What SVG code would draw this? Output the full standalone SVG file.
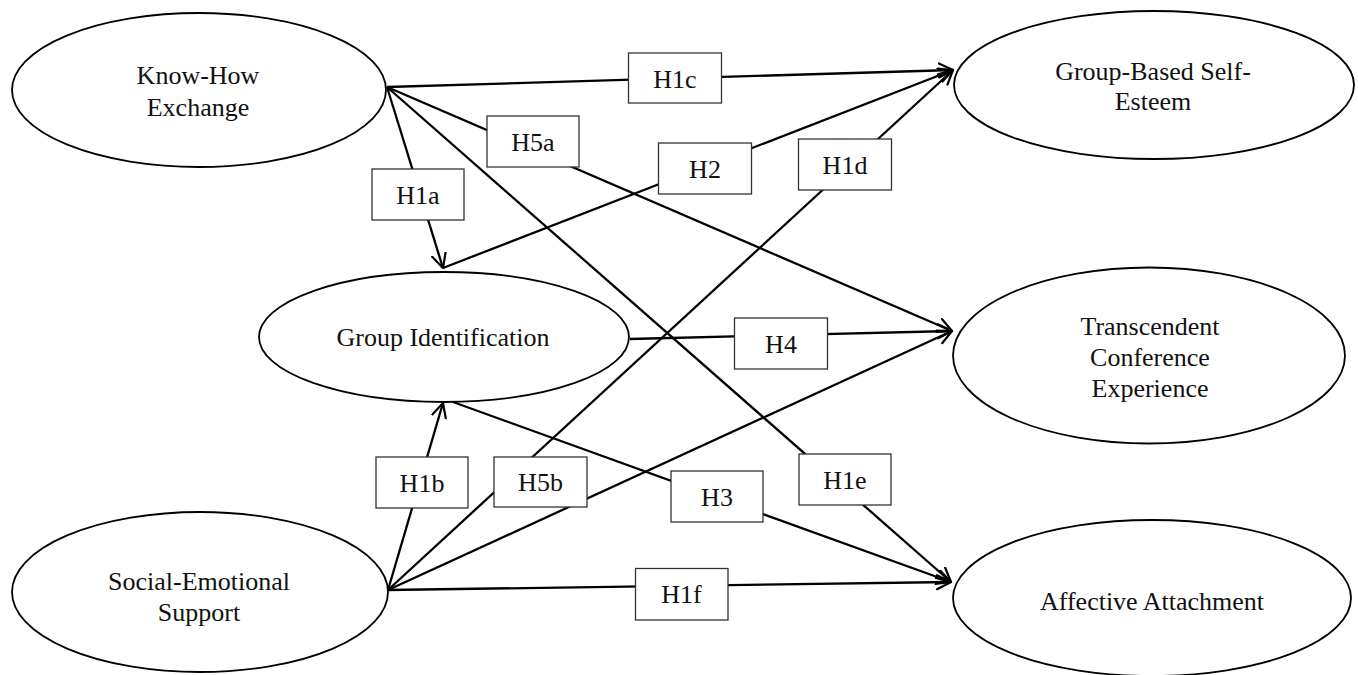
<svg xmlns="http://www.w3.org/2000/svg" width="1358" height="675" viewBox="0 0 1358 675">
  <style>
    .node { fill: #ffffff; stroke: #000000; stroke-width: 1.8; }
    .txt { font-family: "Liberation Serif", "Times New Roman", serif; font-size: 26px; fill: #111111; text-anchor: middle; }
    .edge { fill: none; stroke: #000000; stroke-width: 2.3; marker-end: url(#open-arrow); }
    .plain { fill: none; stroke: #000000; stroke-width: 2.3; }
    .tag rect { fill: #ffffff; stroke: #333333; stroke-width: 1.3; }
  </style>
  <defs>
    <marker id="open-arrow" markerUnits="userSpaceOnUse" markerWidth="20" markerHeight="20" refX="15" refY="8" orient="auto">
      <path d="M1,1 L15,8 L1,15" fill="none" stroke="#000000" stroke-width="2.2" stroke-linecap="round" stroke-linejoin="round"/>
    </marker>
  </defs>

  <rect x="0" y="0" width="1358" height="675" fill="#ffffff"/>

  <!-- constructs -->
  <g id="know-how-exchange">
    <ellipse class="node" cx="199" cy="90" rx="187" ry="77"/>
    <text class="txt" x="198" y="84">Know-How</text>
    <text class="txt" x="198" y="116">Exchange</text>
  </g>
  <g id="group-identification">
    <ellipse class="node" cx="444" cy="337" rx="185" ry="65"/>
    <text class="txt" x="443" y="346">Group Identification</text>
  </g>
  <g id="social-emotional-support">
    <ellipse class="node" cx="200" cy="592" rx="188" ry="80"/>
    <text class="txt" x="199" y="590">Social-Emotional</text>
    <text class="txt" x="199" y="621">Support</text>
  </g>
  <g id="group-based-self-esteem">
    <ellipse class="node" cx="1154" cy="85" rx="200" ry="74"/>
    <text class="txt" x="1153" y="79.5">Group-Based Self-</text>
    <text class="txt" x="1153" y="110">Esteem</text>
  </g>
  <g id="transcendent-conference-experience">
    <ellipse class="node" cx="1149" cy="355.5" rx="196" ry="88"/>
    <text class="txt" x="1150" y="335">Transcendent</text>
    <text class="txt" x="1150" y="366">Conference</text>
    <text class="txt" x="1150" y="397">Experience</text>
  </g>
  <g id="affective-attachment">
    <ellipse class="node" cx="1152" cy="598" rx="199" ry="78"/>
    <text class="txt" x="1152" y="610">Affective Attachment</text>
  </g>

  <!-- paths between constructs -->
  <g id="connectors">
    <line class="edge" x1="387" y1="87" x2="953" y2="70"/>
    <line class="edge" x1="387" y1="87" x2="952" y2="331"/>
    <line class="edge" x1="387" y1="87" x2="951" y2="582"/>
    <line class="edge" x1="387" y1="87" x2="443" y2="268"/>
    <line class="edge" x1="443" y1="268" x2="953" y2="70"/>
    <line class="edge" x1="630" y1="339" x2="952" y2="331"/>
    <line class="edge" x1="453" y1="402" x2="951" y2="582"/>
    <line class="edge" x1="388" y1="590" x2="443" y2="403"/>
    <line class="edge" x1="388" y1="590" x2="953" y2="70"/>
    <line class="edge" x1="388" y1="590" x2="952" y2="331"/>
    <line class="edge" x1="388" y1="590" x2="951" y2="582"/>
  </g>

  <!-- hypothesis labels -->
  <g id="labels">
    <g id="tag-h1c" class="tag"><rect x="628.5" y="53" width="93" height="50"/><text class="txt" x="675" y="87.5">H1c</text></g>
    <g id="tag-h5a" class="tag"><rect x="487" y="116" width="92" height="51"/><text class="txt" x="533" y="150.5">H5a</text></g>
    <g id="tag-h2" class="tag"><rect x="658.5" y="143" width="93" height="51"/><text class="txt" x="705" y="177.5">H2</text></g>
    <g id="tag-h1d" class="tag"><rect x="798.5" y="139" width="93" height="51"/><text class="txt" x="845" y="173.5">H1d</text></g>
    <g id="tag-h1a" class="tag"><rect x="372" y="169" width="92" height="51"/><text class="txt" x="418" y="203.5">H1a</text></g>
    <g id="tag-h4" class="tag"><rect x="734.5" y="318" width="93" height="51"/><text class="txt" x="781" y="352.5">H4</text></g>
    <g id="tag-h3" class="tag"><rect x="671" y="471" width="92" height="51"/><text class="txt" x="717" y="505.5">H3</text></g>
    <g id="tag-h1e" class="tag"><rect x="799" y="454" width="92" height="51"/><text class="txt" x="845" y="488.5">H1e</text></g>
    <g id="tag-h1f" class="tag"><rect x="635.5" y="568.5" width="92.5" height="51.5"/><text class="txt" x="681.5" y="603">H1f</text></g>
    <g id="tag-h1b" class="tag"><rect x="376" y="457" width="92" height="51"/><text class="txt" x="422" y="491.5">H1b</text></g>
    <g id="tag-h5b" class="tag"><rect x="494" y="457" width="93" height="50"/><text class="txt" x="540.5" y="491">H5b</text></g>
  </g>
</svg>
